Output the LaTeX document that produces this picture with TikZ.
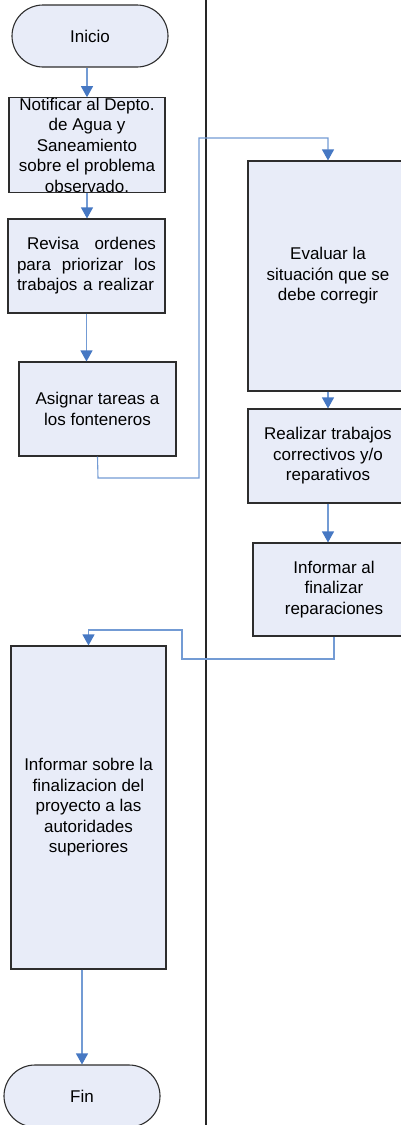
\documentclass[tikz,border=0pt]{standalone}
\usepackage{fontspec}
\setmainfont{Liberation Sans}
\usetikzlibrary{arrows.meta,calc}
\definecolor{boxfill}{RGB}{232,236,248}
\definecolor{boxdraw}{RGB}{45,45,45}
\definecolor{linkblue}{RGB}{115,155,212}
\definecolor{tipblue}{RGB}{70,120,195}
\tikzset{
  procbox/.style={draw=boxdraw, fill=boxfill, line width=1.1pt, rectangle, inner sep=0pt, align=center,
    font=\fontsize{17}{20.5}\selectfont},
  termbox/.style={procbox, rounded corners=31pt, minimum width=156pt, minimum height=62pt},
  link/.style={draw=linkblue, line width=1.1pt},
  arr/.style={link, -{Triangle[width=12pt,length=11pt,color=tipblue]}},
  lane/.style={draw=black!85, line width=1.3pt}
}
\begin{document}
\begin{tikzpicture}[x=1pt,y=-1pt]
\useasboundingbox (0,0) rectangle (401,1125);
% lane divider
\coordinate (laneT) at (206,0);
\coordinate (laneB) at (206,1125);
\draw[lane] (laneT) -- (laneB);

% nodes
\node[termbox] (ini) at (90,36) {Inicio};
\node[procbox, minimum width=156pt, minimum height=94pt] (notif) at (87,145)
  {Notificar al Depto.\\de Agua y\\Saneamiento\\sobre el problema\\observado.};
\node[procbox, minimum width=157pt, minimum height=94pt, text width=139pt, align=left] (rev) at (86.5,266)
  {\hspace*{10pt}Revisa\hfill ordenes\\para\hfill priorizar\hfill los\\trabajos a realizar};
\node[procbox, minimum width=157pt, minimum height=94pt] (asig) at (97.5,409)
  {Asignar tareas a\\los fonteneros};
\node[procbox, minimum width=160pt, minimum height=230pt] (eval) at (328,276)
  {Evaluar la\\situación que se\\debe corregir};
\node[procbox, minimum width=160pt, minimum height=94pt] (real) at (328,456)
  {Realizar trabajos\\correctivos y/o\\reparativos};
\node[procbox, minimum width=162pt, minimum height=93pt] (infal) at (334,589.5)
  {Informar al\\finalizar\\reparaciones};
\node[procbox, minimum width=155pt, minimum height=323pt] (infsup) at (88.5,807.5)
  {Informar sobre la\\finalizacion del\\proyecto a las\\autoridades\\superiores};
\node[termbox] (fin) at (82,1096) {Fin};

% connectors
\draw[arr] (ini.south -| notif.north) -- (notif.north);
\draw[arr] (notif.south) -- (notif.south |- rev.north);
\draw[arr] (rev.south) -- (rev.south |- asig.north);
\coordinate (c1) at (98,478);
\coordinate (c2) at (199,478);
\coordinate (c3) at (199,138);
\coordinate (c4) at (328,138);
\draw[arr] (asig.south) -- (c1) -- (c2) -- (c3) -- (c4) -- (eval.north);
\draw[arr] (eval.south) -- (real.north);
\draw[arr] (real.south) -- (real.south |- infal.north);
\coordinate (d1) at (334,659);
\coordinate (d2) at (182,659);
\coordinate (d3) at (182,630);
\coordinate (d4) at (88.5,630);
\draw[arr] (infal.south) -- (d1) -- (d2) -- (d3) -- (d4) -- (infsup.north);
\draw[arr] (fin.north |- infsup.south) -- (fin.north);
\end{tikzpicture}
\end{document}
